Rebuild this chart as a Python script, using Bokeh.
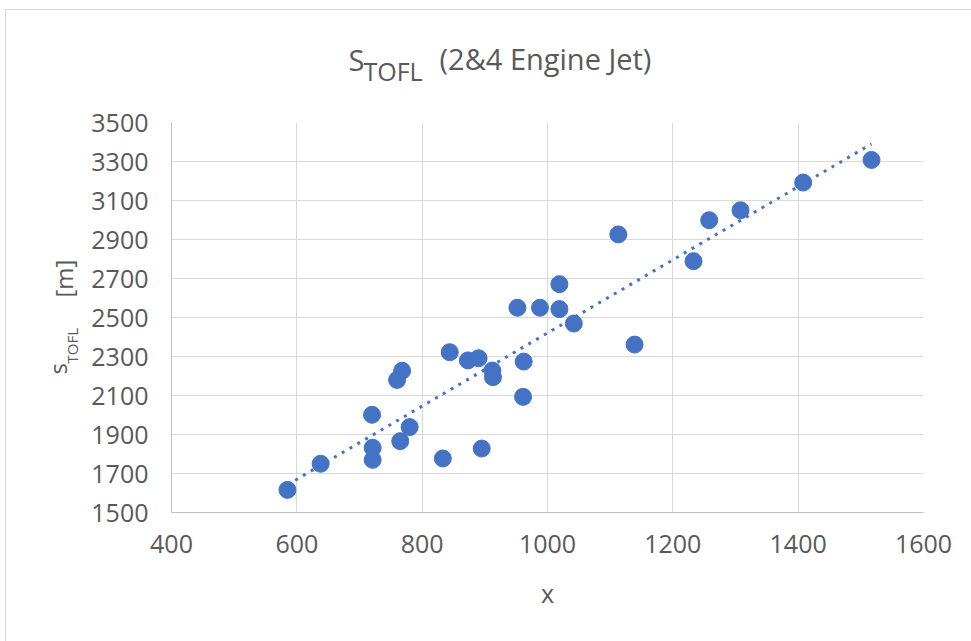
import numpy as np
from bokeh.plotting import figure
from bokeh.models import Label, Range1d, FixedTicker, ColumnDataSource
from bokeh.embed import file_html
from bokeh.resources import INLINE

# ---- data ----
x_vals = [585, 638, 721, 721, 720, 765, 780, 760, 768, 833, 844, 873, 890,
          912, 913, 895, 962, 961, 952, 988, 1019, 1019, 1042, 1113, 1139,
          1233, 1258, 1308, 1408, 1517]
s_tofl = [1616, 1750, 1770, 1832, 2001, 1866, 1938, 2180, 2227, 1777, 2322,
          2280, 2291, 2228, 2194, 1828, 2274, 2093, 2550, 2550, 2543, 2671,
          2469, 2926, 2361, 2789, 2999, 3050, 3192, 3308]
x_ticks = [400, 600, 800, 1000, 1200, 1400, 1600]
y_ticks = [1500, 1700, 1900, 2100, 2300, 2500, 2700, 2900, 3100, 3300, 3500]

BLUE = "#4472C4"
TXT = "#595959"
FONT = "Open Sans"

p = figure(width=971, height=641, output_backend="svg", toolbar_location=None,
           x_range=Range1d(400, 1600), y_range=Range1d(1500, 3500),
           min_border_left=171, min_border_right=48,
           min_border_top=122, min_border_bottom=129)
p.outline_line_color = None
p.border_fill_alpha = 0
p.styles = {"background": "linear-gradient(#d9d9d9,#d9d9d9) 5px 9px / 1px 100% no-repeat, "
                          "linear-gradient(#d9d9d9,#d9d9d9) 5px 9px / 100% 1px no-repeat, white"}

p.xgrid.ticker = FixedTicker(ticks=x_ticks)
p.ygrid.ticker = FixedTicker(ticks=y_ticks)
p.xgrid.grid_line_color = "#d9d9d9"
p.ygrid.grid_line_color = "#d9d9d9"

for ax in (p.xaxis[0], p.yaxis[0]):
    ax.axis_line_color = "#bfbfbf"
    ax.major_tick_line_color = None
    ax.minor_tick_line_color = None
    ax.major_tick_out = 0
    ax.major_tick_in = 0
    ax.major_label_text_font = FONT
    ax.major_label_text_font_size = "25px"
    ax.major_label_text_color = TXT
p.xaxis[0].ticker = FixedTicker(ticks=x_ticks)
p.yaxis[0].ticker = FixedTicker(ticks=y_ticks)
p.yaxis[0].major_label_standoff = 23
p.xaxis[0].major_label_standoff = 22
p.xaxis[0].axis_label = "x"
p.xaxis[0].axis_label_text_font = FONT
p.xaxis[0].axis_label_text_font_size = "25px"
p.xaxis[0].axis_label_text_font_style = "normal"
p.xaxis[0].axis_label_text_color = TXT
p.xaxis[0].axis_label_standoff = 20

# trendline: least-squares fit of the data
slope, intercept = np.polyfit(x_vals, s_tofl, 1)
tx = [min(x_vals), max(x_vals)]
ty = [slope * v + intercept for v in tx]
p.line(tx, ty, line_color=BLUE, line_width=3, line_dash="3 6")

src = ColumnDataSource(dict(x=x_vals, y=s_tofl))
p.scatter("x", "y", source=src, size=17, fill_color=BLUE, line_color=BLUE)

def lab(place, x, y, t, size, angle=0.0):
    p.add_layout(Label(x=x, y=y, x_units="screen", y_units="screen", text=t,
                       text_font=FONT, text_font_size=size, text_color=TXT,
                       text_align="left", text_baseline="alphabetic",
                       angle=angle), place)

# title: S with subscript TOFL, then (2&4 Engine Jet)
lab("above", 268, 64, "(2&4 Engine Jet)", "29px")
lab("above", 177, 23.6, "S", "29px")
lab("above", 192, -26.8, "TOFL", "25px")

# y axis label (rotated): s_TOFL [m]
lab("left", 3, 149, "TOFL", "15px", np.pi / 2)
lab("left", 22, 138, "s", "24px", np.pi / 2)
lab("left", 61, 215, "[m]", "24px", np.pi / 2)

open("out.html", "w").write(file_html(p, INLINE))
